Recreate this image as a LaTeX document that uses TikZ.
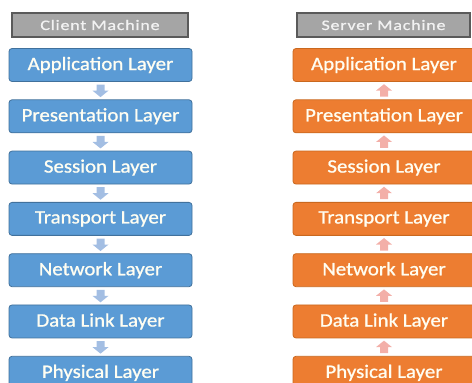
\documentclass[tikz,border=0pt]{standalone}
\usepackage{fontspec}
\usetikzlibrary{calc}
\newfontfamily\boxfont[FakeStretch=1.1,FakeBold=0.9]{Carlito}
\newfontfamily\headfont[FakeStretch=1.25,LetterSpace=5,FakeBold=0.7]{Carlito}
\definecolor{lblue}{HTML}{5B9BD5}
\definecolor{lblueD}{HTML}{41719C}
\definecolor{ora}{HTML}{ED7D31}
\definecolor{oraD}{HTML}{C9681F}
\definecolor{hgray}{HTML}{A5A5A5}
\definecolor{hgrayD}{HTML}{5A5A5A}
\definecolor{arrB}{HTML}{A3BEE3}
\definecolor{arrP}{HTML}{F3AFA8}
\tikzset{
  x=1pt,y=1pt,
  head/.style={draw=hgrayD,line width=1.2pt,fill=hgray,minimum height=24pt,inner sep=0pt,
    font=\headfont\fontsize{14.5}{16}\selectfont,text=white!90!gray},
  lbox/.style={draw=lblueD,line width=0.8pt,fill=lblue,rounded corners=3pt,minimum width=183pt,minimum height=33pt,inner sep=0pt,
    font=\boxfont\fontsize{19}{21}\selectfont,text=white!95!yellow},
  rbox/.style={lbox,draw=oraD,fill=ora,minimum width=182pt},
  darrow/.style={fill=arrB,draw=none},
  uarrow/.style={fill=arrP,draw=none}
}
\begin{document}
\begin{tikzpicture}
\useasboundingbox (0,0) rectangle (472,383);
\begin{scope}
\clip (0,0) rectangle (472,383);
\node[head,minimum width=176pt] (lh) at (100,358) {Client Machine};
\node[head,minimum width=173pt] (rh) at (383.5,358) {Server Machine};
\foreach \i/\t in {1/Application Layer,2/Presentation Layer,3/Session Layer,4/Transport Layer,5/Network Layer,6/Data Link Layer,7/Physical Layer}{
  \node[lbox] (l\i) at (100.5,{383-65-(\i-1)*51.3}) {\t};
  \node[rbox] (r\i) at (384,{383-65-(\i-1)*51.3}) {\t};
}
\foreach \i [evaluate=\i as \j using int(\i+1)] in {1,...,6}{
  \coordinate (dm\i) at ($(l\i.south)!0.5!(l\j.north)$);
  \coordinate (um\i) at ($(r\i.south)!0.5!(r\j.north)$);
  \fill[darrow] ($(dm\i)+(-4,6)$) -- ($(dm\i)+(4,6)$) -- ($(dm\i)+(4,0)$) -- ($(dm\i)+(8,0)$)
     -- ($(dm\i)+(0,-6.5)$) -- ($(dm\i)+(-8,0)$) -- ($(dm\i)+(-4,0)$) -- cycle;
  \fill[uarrow] ($(um\i)+(-4,-6)$) -- ($(um\i)+(4,-6)$) -- ($(um\i)+(4,0)$) -- ($(um\i)+(8,0)$)
     -- ($(um\i)+(0,6.5)$) -- ($(um\i)+(-8,0)$) -- ($(um\i)+(-4,0)$) -- cycle;
}
\end{scope}
\end{tikzpicture}
\end{document}
